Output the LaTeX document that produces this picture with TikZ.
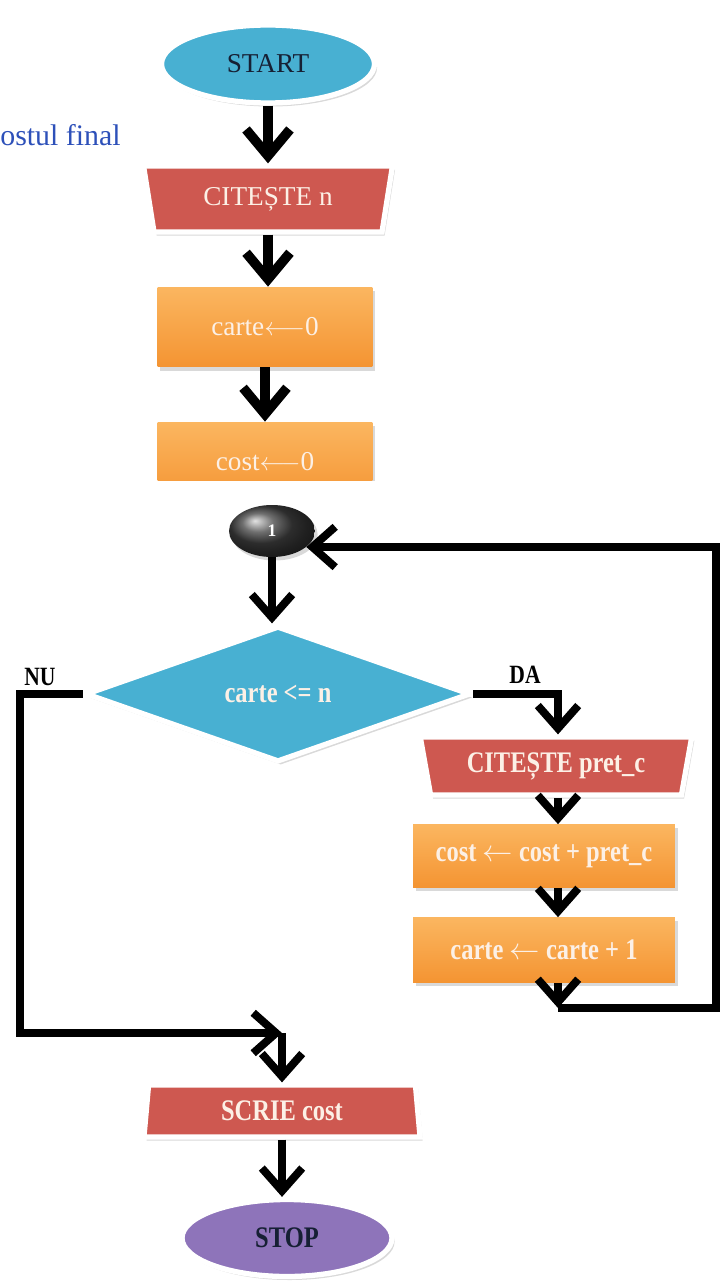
\documentclass[tikz,border=0pt]{standalone}
\usepackage{fontspec}
\setmainfont{Liberation Serif}
\newfontfamily\condfont[FakeStretch=0.82]{Liberation Serif}
\usepackage{tikz}
\usetikzlibrary{arrows.meta,shapes.geometric,shadows,positioning,calc}
\definecolor{flowblue}{RGB}{72,176,210}
\definecolor{flowred}{RGB}{206,88,80}
\definecolor{floworangeA}{RGB}{251,182,96}
\definecolor{floworangeB}{RGB}{244,148,50}
\definecolor{flowpurple}{RGB}{142,116,186}
\definecolor{textdark}{RGB}{22,32,52}
\definecolor{textlight}{RGB}{252,240,230}
\definecolor{linkblue}{RGB}{45,80,185}
\begin{document}
\begin{tikzpicture}[x=0.02cm,y=-0.02cm,
    softshadow/.style={drop shadow={shadow xshift=1.5pt,shadow yshift=-2pt,opacity=0.3}},
    upfont/.style={font=\fontsize{15.5}{18}\selectfont},
    lowfont/.style={font=\condfont\bfseries\fontsize{17}{20}\selectfont},
    term/.style={ellipse,draw=white,line width=3pt,inner sep=0pt,softshadow,text=textdark},
    iobox/.style={trapezium,trapezium stretches=true,draw=white,line width=3pt,fill=flowred,inner sep=0pt,softshadow,text=textlight},
    procbox/.style={rectangle,top color=floworangeA,bottom color=floworangeB,inner sep=0pt,softshadow,text=textlight},
    decide/.style={diamond,draw=white,line width=3pt,fill=flowblue,inner sep=0pt,softshadow,text=textlight},
    arrbig/.style={line width=5.5pt,-{Straight Barb[length=15pt,width=25pt]}},
    arr/.style={line width=4.5pt,-{Straight Barb[length=13pt,width=23pt]}},
    lbl/.style={font=\condfont\bfseries\fontsize{15}{18}\selectfont}]
    \useasboundingbox (0,0) rectangle (725,1284);

    \node (title) at (0,135) [anchor=west,inner sep=0pt,text=linkblue,font=\fontsize{17}{20}\selectfont] {ostul final};
    \node (start) at (268,64) [term,upfont,fill=flowblue,minimum width=4.26cm,minimum height=1.56cm] {START};
    \node (readn) at (268,199) [iobox,upfont,shape border rotate=180,trapezium angle=76,minimum width=5cm,minimum height=1.32cm] {CITEȘTE n};
    \node (initc) at (265,327) [procbox,upfont,minimum width=4.3cm,minimum height=1.6cm] {carte$\longleftarrow$0};
    \begin{scope}
    \clip (0,0) rectangle (725,480);
    \node (initcost) at (265,462) [procbox,upfont,minimum width=4.3cm,minimum height=1.6cm] {cost$\longleftarrow$0};
    \end{scope}
    \draw[arrbig] (start.south) -- (start.south |- readn.north);
    \draw[arrbig] (readn.south) -- (readn.south |- initc.north);
    \draw[arrbig] (initc.south) -- (initc.south |- initcost.north);

    \node (conn) at (272,531) [ellipse,ball color=black!75,inner sep=0pt,minimum width=1.72cm,minimum height=1.04cm,text=white,font=\bfseries\fontsize{10}{12}\selectfont,softshadow] {1};
    \node (test) at (278,694) [decide,lowfont,minimum width=7.7cm,minimum height=2.72cm] {carte <= n};
    \node (nu) at (40,677) [lbl] {NU};
    \node (da) at (525,675) [lbl] {DA};
    \node (readp) at (556,766) [iobox,lowfont,shape border rotate=180,trapezium angle=75,minimum width=5.44cm,minimum height=1.16cm] {CITEȘTE pret\_c};
    \node (addc) at (544,856) [procbox,lowfont,minimum width=5.24cm,minimum height=1.26cm] {cost $\leftarrow$ cost + pret\_c};
    \node (incc) at (544,950) [procbox,lowfont,minimum width=5.24cm,minimum height=1.3cm] {carte $\leftarrow$ carte + 1};
    \node (write) at (282,1111) [iobox,lowfont,trapezium angle=84,minimum width=5.54cm,minimum height=1.04cm] {SCRIE cost};
    \node (stop) at (287,1238) [term,lowfont,fill=flowpurple,minimum width=4.2cm,minimum height=1.54cm] {STOP};

    \coordinate (nu1) at (20,694);
    \coordinate (nu2) at (20,1033);
    \coordinate (join) at (282,1033);
    \coordinate (lp1) at (558,1008);
    \coordinate (lp2) at (716,1008);
    \coordinate (lp3) at (716,547);

    \draw[arr] (conn.south) -- (conn.south |- test.north);
    \draw[arr] (test.east) -| (readp.north -| lp1);
    \draw[arr] (readp.south -| lp1) -- (addc.north -| lp1);
    \draw[arr] (addc.south -| lp1) -- (incc.north -| lp1);
    \draw[arr] (incc.south -| lp1) -- (lp1);
    \draw[arr] (lp1) -- (lp2) -- (lp3) -- (lp3 -| conn.-25);
    \draw[arr] (test.west) -- (nu1) -- (nu2) -- (join);
    \draw[arr] (join) -- (write.north);
    \draw[arr] (write.south) -- (write.south |- stop.north);
\end{tikzpicture}
\end{document}
